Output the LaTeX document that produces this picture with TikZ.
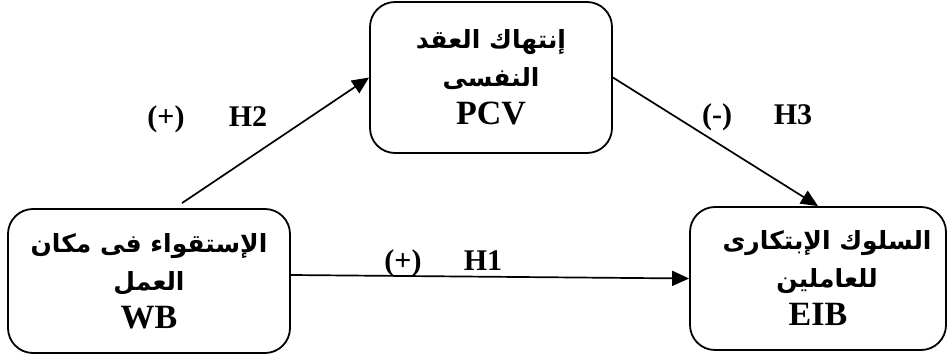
\documentclass[tikz,border=0pt]{standalone}
\usepackage{fontspec}
\setmainfont{Liberation Serif}
\newfontfamily\arabicfont[Script=Arabic]{DejaVu Sans}
\TeXXeTstate=1
\usetikzlibrary{arrows.meta,calc}
% Arabic line, right to left
\newcommand{\arline}[1]{{\arabicfont\bfseries\fontsize{25}{38}\selectfont\beginR #1\endR}}
\begin{document}
\begin{tikzpicture}[x=1pt, y=-1pt,
	varbox/.style={draw, line width=1.8pt, rounded corners=25pt, align=center,
		inner sep=0pt, font=\bfseries\fontsize{34}{38}\selectfont},
	link/.style={line width=1.7pt, -{Triangle[length=17pt,width=15pt]}},
	hyp/.style={anchor=base, inner sep=0pt, font=\bfseries\fontsize{30}{30}\selectfont}]
	\useasboundingbox (0,0) rectangle (949,358);
	
	\node[varbox, minimum width=282pt, minimum height=144pt] (wb) at (149,281)
		{\arline{الإستقواء فى مكان}\\ \arline{العمل}\\ WB};
	\node[varbox, minimum width=242pt, minimum height=151pt] (pcv) at (491,77.5)
		{\arline{إنتهاك العقد}\\ \arline{النفسى}\\ PCV};
	\node[varbox, minimum width=256pt, minimum height=143pt] (eib) at (818,278.5)
		{\hspace*{18pt}\arline{السلوك الإبتكارى}\\ \hspace*{18pt}\arline{للعاملين}\\ EIB};
	
	\draw[link] ($(wb.north)+(33,-5)$) -- (pcv.west);
	\draw[link] (pcv.east) -- (eib.north);
	\draw[link] ([yshift=6pt]wb.east) -- (eib.west);
	
	\node[hyp] (s2) at (166,127) {(+)};
	\node[hyp] (h2) at (248,127) {H2};
	\node[hyp] (s3) at (717,125) {(-)};
	\node[hyp] (h3) at (793,125) {H3};
	\node[hyp] (s1) at (403,270) {(+)};
	\node[hyp] (h1) at (483,270) {H1};
\end{tikzpicture}
\end{document}
